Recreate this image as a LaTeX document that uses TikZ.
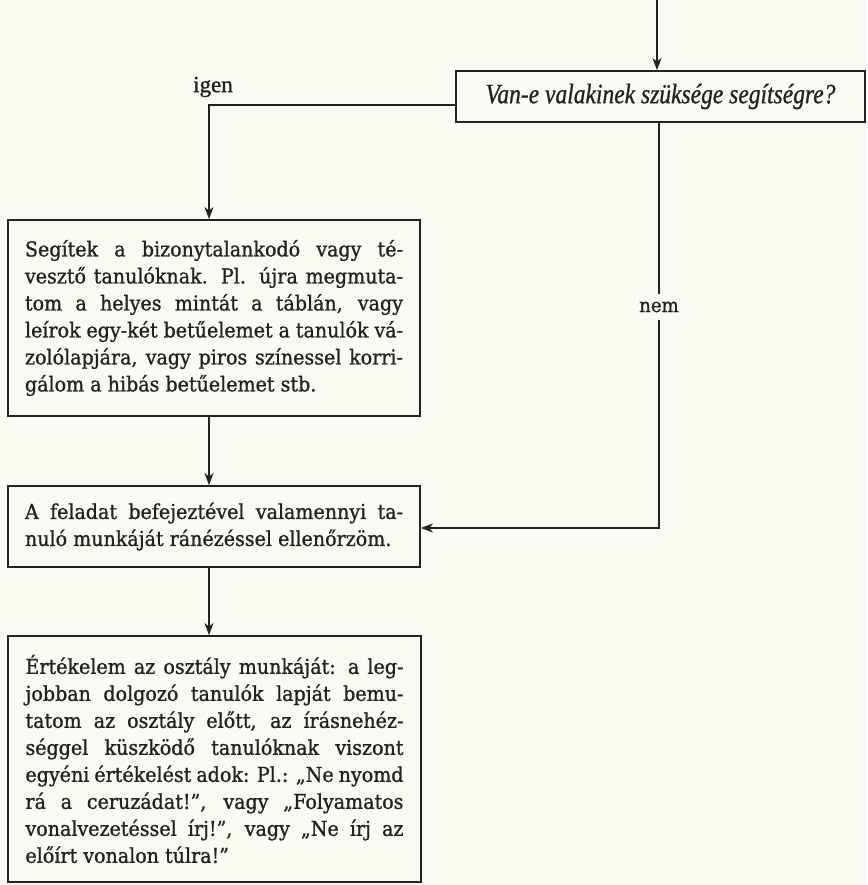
\documentclass[tikz,border=0pt]{standalone}
\usepackage{fontspec}
\setmainfont{DejaVu Serif}[FakeStretch=0.93, FakeBold=1]
\newfontfamily\timesf{Liberation Serif}[FakeBold=1.2]
\newfontfamily\decf{Liberation Serif}[FakeStretch=0.84, FakeBold=0.8]
\usetikzlibrary{arrows.meta}
\definecolor{ink}{HTML}{222222}
\definecolor{paper}{HTML}{FAF9F2}
\tikzset{
  box/.style={draw=ink, line width=1.8pt, inner sep=0pt, text=ink},
  body/.style={box, font=\fontsize{20.5}{27}\selectfont, align=justify, text width=378pt},
  conn/.style={draw=ink, line width=1.8pt},
  arr/.style={conn, -{Stealth[length=12pt,width=9pt,inset=3.5pt]}},
  lbl/.style={text=ink, inner sep=0pt},
}
\begin{document}
\begin{tikzpicture}[x=1pt,y=-1pt]
\fill[paper] (0,0) rectangle (867,885);
\useasboundingbox (0,0) rectangle (867,885);

% decision
\node[box, minimum width=409pt, minimum height=51pt,
      font=\decf\itshape\fontsize{28}{30}\selectfont] (dec) at (660.5,96.5)
  {Van-e valakinek szüksége segítségre?};

% action boxes
\node[body, minimum width=412pt, minimum height=196pt] (b1) at (214,318)
  {\hyphenpenalty=10000 \exhyphenpenalty=10000
   Segítek a bizonytalankodó vagy té-\linebreak
   vesztő tanulóknak. Pl. újra megmuta-\linebreak
   tom a helyes mintát a táblán, vagy\linebreak
   leírok egy-két betűelemet a tanulók vá-\linebreak
   zolólapjára, vagy piros színessel korri-\linebreak
   gálom a hibás betűelemet stb.};

\node[body, minimum width=412pt, minimum height=81pt] (b2) at (214,526.5)
  {\hyphenpenalty=10000 \exhyphenpenalty=10000
   A feladat befejeztével valamennyi ta-\linebreak
   nuló munkáját ránézéssel ellenőrzöm.};

\node[body, minimum width=413pt, minimum height=246pt] (b3) at (214.5,759)
  {\hyphenpenalty=10000 \exhyphenpenalty=10000
   Értékelem az osztály munkáját: a leg-\linebreak
   jobban dolgozó tanulók lapját bemu-\linebreak
   tatom az osztály előtt, az írásnehéz-\linebreak
   séggel küszködő tanulóknak viszont\linebreak
   egyéni értékelést adok: Pl.: „Ne nyomd\linebreak
   rá a ceruzádat!”, vagy „Folyamatos\linebreak
   vonalvezetéssel írj!”, vagy „Ne írj az\linebreak
   előírt vonalon túlra!”};

% branch labels
\node[lbl, font=\timesf\fontsize{23}{26}\selectfont] (igen) at (213,87) {igen};
\node[lbl, inner ysep=7.5pt, fill=paper, font=\fontsize{19.5}{22}\selectfont] (nem) at (659,307) {nem};

% connectors
\coordinate (topin) at (657,0);
\draw[arr] (topin) -- (topin |- dec.north);

\coordinate (ig) at (209,105);
\draw[arr] (dec.west |- ig) -- (ig) -- (ig |- b1.north);

\coordinate (lc) at (209,0);
\draw[arr] (lc |- b1.south) -- (lc |- b2.north);
\draw[arr] (lc |- b2.south) -- (lc |- b3.north);

\coordinate (rc) at (659,528);
\draw[conn] (rc |- dec.south) -- (nem.north);
\draw[arr] (nem.south) -- (rc) -- (rc -| b2.east);
\end{tikzpicture}
\end{document}
